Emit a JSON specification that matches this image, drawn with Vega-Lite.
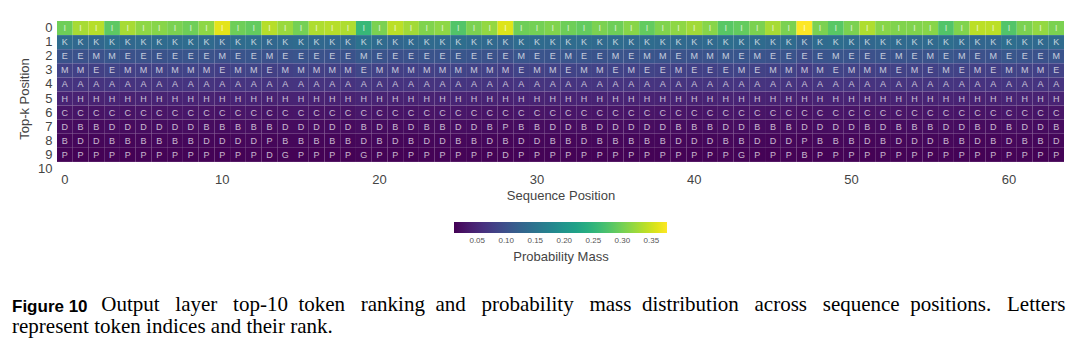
{
"$schema": "https://vega.github.io/schema/vega-lite/v6.json",
"width": 1007,
"height": 155,
"autosize": {"type": "none"},
"padding": {"left": 57, "top": 21, "right": 16, "bottom": 175},
"background": "white",
"config": {"view": {"stroke": null}, "font": "Liberation Sans"},
"title": {
  "text": "Figure 10",
  "subtitle": ["\u200b\u00a0\u00a0\u00a0\u00a0\u00a0\u00a0\u00a0\u00a0\u00a0\u00a0\u00a0\u00a0\u00a0\u00a0\u00a0\u00a0\u00a0Output \u00a0\u00a0layer \u00a0\u00a0top-10 \u00a0token \u00a0\u00a0ranking \u00a0and \u00a0\u00a0probability \u00a0\u00a0mass \u00a0distribution \u00a0\u00a0across \u00a0\u00a0sequence \u00a0positions. \u00a0\u00a0Letters", "represent token indices and their rank."],
  "orient": "bottom", "anchor": "start", "frame": "group", "dx": -45, "offset": 35,
  "font": "Liberation Sans", "fontSize": 17, "fontWeight": "bold", "color": "#000",
  "subtitleFont": "Liberation Serif", "subtitleFontSize": 21, "subtitleColor": "#000",
  "subtitleLineHeight": 22, "subtitlePadding": -22
},
"data": {"values": [
{"c":0,"r":0,"t":"I","p":0.296},{"c":1,"r":0,"t":"I","p":0.329},{"c":2,"r":0,"t":"I","p":0.337},{"c":3,"r":0,"t":"I","p":0.285},{"c":4,"r":0,"t":"I","p":0.329},{"c":5,"r":0,"t":"I","p":0.315},{"c":6,"r":0,"t":"I","p":0.311},{"c":7,"r":0,"t":"I","p":0.304},{"c":8,"r":0,"t":"I","p":0.296},{"c":9,"r":0,"t":"I","p":0.315},{"c":10,"r":0,"t":"I","p":0.362},{"c":11,"r":0,"t":"I","p":0.296},{"c":12,"r":0,"t":"I","p":0.289},{"c":13,"r":0,"t":"I","p":0.337},{"c":14,"r":0,"t":"I","p":0.322},{"c":15,"r":0,"t":"I","p":0.300},
{"c":16,"r":0,"t":"I","p":0.333},{"c":17,"r":0,"t":"I","p":0.337},{"c":18,"r":0,"t":"I","p":0.333},{"c":19,"r":0,"t":"I","p":0.256},{"c":20,"r":0,"t":"I","p":0.304},{"c":21,"r":0,"t":"I","p":0.340},{"c":22,"r":0,"t":"I","p":0.326},{"c":23,"r":0,"t":"I","p":0.307},{"c":24,"r":0,"t":"I","p":0.315},{"c":25,"r":0,"t":"I","p":0.278},{"c":26,"r":0,"t":"I","p":0.304},{"c":27,"r":0,"t":"I","p":0.318},{"c":28,"r":0,"t":"I","p":0.359},{"c":29,"r":0,"t":"I","p":0.296},{"c":30,"r":0,"t":"I","p":0.300},{"c":31,"r":0,"t":"I","p":0.307},
{"c":32,"r":0,"t":"I","p":0.296},{"c":33,"r":0,"t":"I","p":0.289},{"c":34,"r":0,"t":"I","p":0.304},{"c":35,"r":0,"t":"I","p":0.296},{"c":36,"r":0,"t":"I","p":0.311},{"c":37,"r":0,"t":"I","p":0.289},{"c":38,"r":0,"t":"I","p":0.307},{"c":39,"r":0,"t":"I","p":0.315},{"c":40,"r":0,"t":"I","p":0.326},{"c":41,"r":0,"t":"I","p":0.311},{"c":42,"r":0,"t":"I","p":0.282},{"c":43,"r":0,"t":"I","p":0.289},{"c":44,"r":0,"t":"I","p":0.304},{"c":45,"r":0,"t":"I","p":0.329},{"c":46,"r":0,"t":"I","p":0.304},{"c":47,"r":0,"t":"I","p":0.377},
{"c":48,"r":0,"t":"I","p":0.304},{"c":49,"r":0,"t":"I","p":0.282},{"c":50,"r":0,"t":"I","p":0.304},{"c":51,"r":0,"t":"I","p":0.333},{"c":52,"r":0,"t":"I","p":0.311},{"c":53,"r":0,"t":"I","p":0.307},{"c":54,"r":0,"t":"I","p":0.307},{"c":55,"r":0,"t":"I","p":0.311},{"c":56,"r":0,"t":"I","p":0.278},{"c":57,"r":0,"t":"I","p":0.307},{"c":58,"r":0,"t":"I","p":0.340},{"c":59,"r":0,"t":"I","p":0.340},{"c":60,"r":0,"t":"I","p":0.278},{"c":61,"r":0,"t":"I","p":0.304},{"c":62,"r":0,"t":"I","p":0.318},{"c":63,"r":0,"t":"I","p":0.304},

{"c":0,"r":1,"t":"K","p":0.138},{"c":1,"r":1,"t":"K","p":0.133},{"c":2,"r":1,"t":"K","p":0.131},{"c":3,"r":1,"t":"K","p":0.142},{"c":4,"r":1,"t":"K","p":0.132},{"c":5,"r":1,"t":"K","p":0.136},{"c":6,"r":1,"t":"K","p":0.137},{"c":7,"r":1,"t":"K","p":0.137},{"c":8,"r":1,"t":"K","p":0.139},{"c":9,"r":1,"t":"K","p":0.135},{"c":10,"r":1,"t":"K","p":0.127},{"c":11,"r":1,"t":"K","p":0.138},{"c":12,"r":1,"t":"K","p":0.140},{"c":13,"r":1,"t":"K","p":0.131},{"c":14,"r":1,"t":"K","p":0.134},{"c":15,"r":1,"t":"K","p":0.137},
{"c":16,"r":1,"t":"K","p":0.132},{"c":17,"r":1,"t":"K","p":0.131},{"c":18,"r":1,"t":"K","p":0.132},{"c":19,"r":1,"t":"K","p":0.147},{"c":20,"r":1,"t":"K","p":0.137},{"c":21,"r":1,"t":"K","p":0.130},{"c":22,"r":1,"t":"K","p":0.134},{"c":23,"r":1,"t":"K","p":0.136},{"c":24,"r":1,"t":"K","p":0.135},{"c":25,"r":1,"t":"K","p":0.141},{"c":26,"r":1,"t":"K","p":0.137},{"c":27,"r":1,"t":"K","p":0.134},{"c":28,"r":1,"t":"K","p":0.127},{"c":29,"r":1,"t":"K","p":0.138},{"c":30,"r":1,"t":"K","p":0.137},{"c":31,"r":1,"t":"K","p":0.136},
{"c":32,"r":1,"t":"K","p":0.138},{"c":33,"r":1,"t":"K","p":0.139},{"c":34,"r":1,"t":"K","p":0.136},{"c":35,"r":1,"t":"K","p":0.138},{"c":36,"r":1,"t":"K","p":0.135},{"c":37,"r":1,"t":"K","p":0.139},{"c":38,"r":1,"t":"K","p":0.136},{"c":39,"r":1,"t":"K","p":0.135},{"c":40,"r":1,"t":"K","p":0.133},{"c":41,"r":1,"t":"K","p":0.135},{"c":42,"r":1,"t":"K","p":0.141},{"c":43,"r":1,"t":"K","p":0.139},{"c":44,"r":1,"t":"K","p":0.137},{"c":45,"r":1,"t":"K","p":0.132},{"c":46,"r":1,"t":"K","p":0.137},{"c":47,"r":1,"t":"K","p":0.122},
{"c":48,"r":1,"t":"K","p":0.137},{"c":49,"r":1,"t":"K","p":0.140},{"c":50,"r":1,"t":"K","p":0.137},{"c":51,"r":1,"t":"K","p":0.131},{"c":52,"r":1,"t":"K","p":0.135},{"c":53,"r":1,"t":"K","p":0.136},{"c":54,"r":1,"t":"K","p":0.136},{"c":55,"r":1,"t":"K","p":0.135},{"c":56,"r":1,"t":"K","p":0.142},{"c":57,"r":1,"t":"K","p":0.136},{"c":58,"r":1,"t":"K","p":0.130},{"c":59,"r":1,"t":"K","p":0.130},{"c":60,"r":1,"t":"K","p":0.142},{"c":61,"r":1,"t":"K","p":0.137},{"c":62,"r":1,"t":"K","p":0.134},{"c":63,"r":1,"t":"K","p":0.137},

{"c":0,"r":2,"t":"E","p":0.104},{"c":1,"r":2,"t":"E","p":0.101},{"c":2,"r":2,"t":"M","p":0.100},{"c":3,"r":2,"t":"M","p":0.108},{"c":4,"r":2,"t":"E","p":0.101},{"c":5,"r":2,"t":"E","p":0.103},{"c":6,"r":2,"t":"E","p":0.104},{"c":7,"r":2,"t":"E","p":0.105},{"c":8,"r":2,"t":"E","p":0.106},{"c":9,"r":2,"t":"E","p":0.103},{"c":10,"r":2,"t":"M","p":0.098},{"c":11,"r":2,"t":"E","p":0.105},{"c":12,"r":2,"t":"E","p":0.107},{"c":13,"r":2,"t":"M","p":0.100},{"c":14,"r":2,"t":"E","p":0.102},{"c":15,"r":2,"t":"E","p":0.105},
{"c":16,"r":2,"t":"E","p":0.101},{"c":17,"r":2,"t":"E","p":0.100},{"c":18,"r":2,"t":"E","p":0.101},{"c":19,"r":2,"t":"M","p":0.112},{"c":20,"r":2,"t":"E","p":0.105},{"c":21,"r":2,"t":"E","p":0.099},{"c":22,"r":2,"t":"E","p":0.102},{"c":23,"r":2,"t":"E","p":0.104},{"c":24,"r":2,"t":"E","p":0.103},{"c":25,"r":2,"t":"E","p":0.108},{"c":26,"r":2,"t":"E","p":0.105},{"c":27,"r":2,"t":"E","p":0.103},{"c":28,"r":2,"t":"E","p":0.097},{"c":29,"r":2,"t":"M","p":0.106},{"c":30,"r":2,"t":"E","p":0.105},{"c":31,"r":2,"t":"E","p":0.104},
{"c":32,"r":2,"t":"M","p":0.106},{"c":33,"r":2,"t":"E","p":0.107},{"c":34,"r":2,"t":"E","p":0.104},{"c":35,"r":2,"t":"M","p":0.106},{"c":36,"r":2,"t":"E","p":0.103},{"c":37,"r":2,"t":"M","p":0.107},{"c":38,"r":2,"t":"M","p":0.104},{"c":39,"r":2,"t":"E","p":0.103},{"c":40,"r":2,"t":"M","p":0.102},{"c":41,"r":2,"t":"M","p":0.103},{"c":42,"r":2,"t":"M","p":0.108},{"c":43,"r":2,"t":"E","p":0.107},{"c":44,"r":2,"t":"M","p":0.105},{"c":45,"r":2,"t":"E","p":0.101},{"c":46,"r":2,"t":"E","p":0.105},{"c":47,"r":2,"t":"E","p":0.094},
{"c":48,"r":2,"t":"E","p":0.105},{"c":49,"r":2,"t":"M","p":0.107},{"c":50,"r":2,"t":"E","p":0.105},{"c":51,"r":2,"t":"E","p":0.100},{"c":52,"r":2,"t":"E","p":0.103},{"c":53,"r":2,"t":"M","p":0.104},{"c":54,"r":2,"t":"E","p":0.104},{"c":55,"r":2,"t":"M","p":0.103},{"c":56,"r":2,"t":"E","p":0.109},{"c":57,"r":2,"t":"M","p":0.104},{"c":58,"r":2,"t":"E","p":0.100},{"c":59,"r":2,"t":"M","p":0.100},{"c":60,"r":2,"t":"E","p":0.109},{"c":61,"r":2,"t":"E","p":0.105},{"c":62,"r":2,"t":"E","p":0.102},{"c":63,"r":2,"t":"M","p":0.105},

{"c":0,"r":3,"t":"M","p":0.081},{"c":1,"r":3,"t":"M","p":0.079},{"c":2,"r":3,"t":"E","p":0.078},{"c":3,"r":3,"t":"E","p":0.084},{"c":4,"r":3,"t":"M","p":0.079},{"c":5,"r":3,"t":"M","p":0.080},{"c":6,"r":3,"t":"M","p":0.081},{"c":7,"r":3,"t":"M","p":0.082},{"c":8,"r":3,"t":"M","p":0.082},{"c":9,"r":3,"t":"M","p":0.080},{"c":10,"r":3,"t":"E","p":0.076},{"c":11,"r":3,"t":"M","p":0.082},{"c":12,"r":3,"t":"M","p":0.083},{"c":13,"r":3,"t":"E","p":0.078},{"c":14,"r":3,"t":"M","p":0.079},{"c":15,"r":3,"t":"M","p":0.082},
{"c":16,"r":3,"t":"M","p":0.078},{"c":17,"r":3,"t":"M","p":0.078},{"c":18,"r":3,"t":"M","p":0.079},{"c":19,"r":3,"t":"E","p":0.087},{"c":20,"r":3,"t":"M","p":0.081},{"c":21,"r":3,"t":"M","p":0.077},{"c":22,"r":3,"t":"M","p":0.079},{"c":23,"r":3,"t":"M","p":0.080},{"c":24,"r":3,"t":"M","p":0.080},{"c":25,"r":3,"t":"M","p":0.084},{"c":26,"r":3,"t":"M","p":0.081},{"c":27,"r":3,"t":"M","p":0.080},{"c":28,"r":3,"t":"M","p":0.075},{"c":29,"r":3,"t":"E","p":0.082},{"c":30,"r":3,"t":"M","p":0.081},{"c":31,"r":3,"t":"M","p":0.081},
{"c":32,"r":3,"t":"E","p":0.082},{"c":33,"r":3,"t":"M","p":0.083},{"c":34,"r":3,"t":"M","p":0.081},{"c":35,"r":3,"t":"E","p":0.082},{"c":36,"r":3,"t":"M","p":0.080},{"c":37,"r":3,"t":"E","p":0.083},{"c":38,"r":3,"t":"E","p":0.081},{"c":39,"r":3,"t":"M","p":0.080},{"c":40,"r":3,"t":"E","p":0.079},{"c":41,"r":3,"t":"E","p":0.080},{"c":42,"r":3,"t":"E","p":0.084},{"c":43,"r":3,"t":"M","p":0.083},{"c":44,"r":3,"t":"E","p":0.081},{"c":45,"r":3,"t":"M","p":0.078},{"c":46,"r":3,"t":"M","p":0.082},{"c":47,"r":3,"t":"M","p":0.073},
{"c":48,"r":3,"t":"M","p":0.081},{"c":49,"r":3,"t":"E","p":0.083},{"c":50,"r":3,"t":"M","p":0.081},{"c":51,"r":3,"t":"M","p":0.078},{"c":52,"r":3,"t":"M","p":0.080},{"c":53,"r":3,"t":"E","p":0.081},{"c":54,"r":3,"t":"M","p":0.081},{"c":55,"r":3,"t":"E","p":0.080},{"c":56,"r":3,"t":"M","p":0.084},{"c":57,"r":3,"t":"E","p":0.081},{"c":58,"r":3,"t":"M","p":0.077},{"c":59,"r":3,"t":"E","p":0.077},{"c":60,"r":3,"t":"M","p":0.084},{"c":61,"r":3,"t":"M","p":0.081},{"c":62,"r":3,"t":"M","p":0.079},{"c":63,"r":3,"t":"E","p":0.081},

{"c":0,"r":4,"t":"A","p":0.065},{"c":1,"r":4,"t":"A","p":0.063},{"c":2,"r":4,"t":"A","p":0.063},{"c":3,"r":4,"t":"A","p":0.066},{"c":4,"r":4,"t":"A","p":0.063},{"c":5,"r":4,"t":"A","p":0.064},{"c":6,"r":4,"t":"A","p":0.064},{"c":7,"r":4,"t":"A","p":0.065},{"c":8,"r":4,"t":"A","p":0.065},{"c":9,"r":4,"t":"A","p":0.064},{"c":10,"r":4,"t":"A","p":0.061},{"c":11,"r":4,"t":"A","p":0.065},{"c":12,"r":4,"t":"A","p":0.065},{"c":13,"r":4,"t":"A","p":0.063},{"c":14,"r":4,"t":"A","p":0.064},{"c":15,"r":4,"t":"A","p":0.065},
{"c":16,"r":4,"t":"A","p":0.063},{"c":17,"r":4,"t":"A","p":0.063},{"c":18,"r":4,"t":"A","p":0.063},{"c":19,"r":4,"t":"A","p":0.068},{"c":20,"r":4,"t":"A","p":0.064},{"c":21,"r":4,"t":"A","p":0.062},{"c":22,"r":4,"t":"A","p":0.063},{"c":23,"r":4,"t":"A","p":0.064},{"c":24,"r":4,"t":"A","p":0.064},{"c":25,"r":4,"t":"A","p":0.066},{"c":26,"r":4,"t":"A","p":0.064},{"c":27,"r":4,"t":"A","p":0.064},{"c":28,"r":4,"t":"A","p":0.061},{"c":29,"r":4,"t":"A","p":0.065},{"c":30,"r":4,"t":"A","p":0.064},{"c":31,"r":4,"t":"A","p":0.064},
{"c":32,"r":4,"t":"A","p":0.065},{"c":33,"r":4,"t":"A","p":0.065},{"c":34,"r":4,"t":"A","p":0.064},{"c":35,"r":4,"t":"A","p":0.065},{"c":36,"r":4,"t":"A","p":0.064},{"c":37,"r":4,"t":"A","p":0.065},{"c":38,"r":4,"t":"A","p":0.064},{"c":39,"r":4,"t":"A","p":0.064},{"c":40,"r":4,"t":"A","p":0.063},{"c":41,"r":4,"t":"A","p":0.064},{"c":42,"r":4,"t":"A","p":0.066},{"c":43,"r":4,"t":"A","p":0.065},{"c":44,"r":4,"t":"A","p":0.064},{"c":45,"r":4,"t":"A","p":0.063},{"c":46,"r":4,"t":"A","p":0.064},{"c":47,"r":4,"t":"A","p":0.060},
{"c":48,"r":4,"t":"A","p":0.064},{"c":49,"r":4,"t":"A","p":0.065},{"c":50,"r":4,"t":"A","p":0.064},{"c":51,"r":4,"t":"A","p":0.063},{"c":52,"r":4,"t":"A","p":0.064},{"c":53,"r":4,"t":"A","p":0.064},{"c":54,"r":4,"t":"A","p":0.064},{"c":55,"r":4,"t":"A","p":0.064},{"c":56,"r":4,"t":"A","p":0.066},{"c":57,"r":4,"t":"A","p":0.064},{"c":58,"r":4,"t":"A","p":0.062},{"c":59,"r":4,"t":"A","p":0.062},{"c":60,"r":4,"t":"A","p":0.066},{"c":61,"r":4,"t":"A","p":0.064},{"c":62,"r":4,"t":"A","p":0.063},{"c":63,"r":4,"t":"A","p":0.064},

{"c":0,"r":5,"t":"H","p":0.045},{"c":1,"r":5,"t":"H","p":0.043},{"c":2,"r":5,"t":"H","p":0.043},{"c":3,"r":5,"t":"H","p":0.046},{"c":4,"r":5,"t":"H","p":0.043},{"c":5,"r":5,"t":"H","p":0.044},{"c":6,"r":5,"t":"H","p":0.044},{"c":7,"r":5,"t":"H","p":0.045},{"c":8,"r":5,"t":"H","p":0.045},{"c":9,"r":5,"t":"H","p":0.044},{"c":10,"r":5,"t":"H","p":0.042},{"c":11,"r":5,"t":"H","p":0.045},{"c":12,"r":5,"t":"H","p":0.045},{"c":13,"r":5,"t":"H","p":0.043},{"c":14,"r":5,"t":"H","p":0.044},{"c":15,"r":5,"t":"H","p":0.045},
{"c":16,"r":5,"t":"H","p":0.043},{"c":17,"r":5,"t":"H","p":0.043},{"c":18,"r":5,"t":"H","p":0.043},{"c":19,"r":5,"t":"H","p":0.047},{"c":20,"r":5,"t":"H","p":0.044},{"c":21,"r":5,"t":"H","p":0.043},{"c":22,"r":5,"t":"H","p":0.043},{"c":23,"r":5,"t":"H","p":0.044},{"c":24,"r":5,"t":"H","p":0.044},{"c":25,"r":5,"t":"H","p":0.046},{"c":26,"r":5,"t":"H","p":0.044},{"c":27,"r":5,"t":"H","p":0.044},{"c":28,"r":5,"t":"H","p":0.042},{"c":29,"r":5,"t":"H","p":0.045},{"c":30,"r":5,"t":"H","p":0.044},{"c":31,"r":5,"t":"H","p":0.044},
{"c":32,"r":5,"t":"H","p":0.045},{"c":33,"r":5,"t":"H","p":0.045},{"c":34,"r":5,"t":"H","p":0.044},{"c":35,"r":5,"t":"H","p":0.045},{"c":36,"r":5,"t":"H","p":0.044},{"c":37,"r":5,"t":"H","p":0.045},{"c":38,"r":5,"t":"H","p":0.044},{"c":39,"r":5,"t":"H","p":0.044},{"c":40,"r":5,"t":"H","p":0.043},{"c":41,"r":5,"t":"H","p":0.044},{"c":42,"r":5,"t":"H","p":0.046},{"c":43,"r":5,"t":"H","p":0.045},{"c":44,"r":5,"t":"H","p":0.044},{"c":45,"r":5,"t":"H","p":0.043},{"c":46,"r":5,"t":"H","p":0.044},{"c":47,"r":5,"t":"H","p":0.041},
{"c":48,"r":5,"t":"H","p":0.044},{"c":49,"r":5,"t":"H","p":0.045},{"c":50,"r":5,"t":"H","p":0.044},{"c":51,"r":5,"t":"H","p":0.043},{"c":52,"r":5,"t":"H","p":0.044},{"c":53,"r":5,"t":"H","p":0.044},{"c":54,"r":5,"t":"H","p":0.044},{"c":55,"r":5,"t":"H","p":0.044},{"c":56,"r":5,"t":"H","p":0.046},{"c":57,"r":5,"t":"H","p":0.044},{"c":58,"r":5,"t":"H","p":0.043},{"c":59,"r":5,"t":"H","p":0.043},{"c":60,"r":5,"t":"H","p":0.046},{"c":61,"r":5,"t":"H","p":0.044},{"c":62,"r":5,"t":"H","p":0.043},{"c":63,"r":5,"t":"H","p":0.044},

{"c":0,"r":6,"t":"C","p":0.030},{"c":1,"r":6,"t":"C","p":0.028},{"c":2,"r":6,"t":"C","p":0.028},{"c":3,"r":6,"t":"C","p":0.031},{"c":4,"r":6,"t":"C","p":0.028},{"c":5,"r":6,"t":"C","p":0.029},{"c":6,"r":6,"t":"C","p":0.029},{"c":7,"r":6,"t":"C","p":0.030},{"c":8,"r":6,"t":"C","p":0.030},{"c":9,"r":6,"t":"C","p":0.029},{"c":10,"r":6,"t":"C","p":0.027},{"c":11,"r":6,"t":"C","p":0.030},{"c":12,"r":6,"t":"C","p":0.030},{"c":13,"r":6,"t":"C","p":0.028},{"c":14,"r":6,"t":"C","p":0.029},{"c":15,"r":6,"t":"C","p":0.030},
{"c":16,"r":6,"t":"C","p":0.028},{"c":17,"r":6,"t":"C","p":0.028},{"c":18,"r":6,"t":"C","p":0.028},{"c":19,"r":6,"t":"C","p":0.032},{"c":20,"r":6,"t":"C","p":0.029},{"c":21,"r":6,"t":"C","p":0.028},{"c":22,"r":6,"t":"C","p":0.028},{"c":23,"r":6,"t":"C","p":0.029},{"c":24,"r":6,"t":"C","p":0.029},{"c":25,"r":6,"t":"C","p":0.031},{"c":26,"r":6,"t":"C","p":0.029},{"c":27,"r":6,"t":"C","p":0.029},{"c":28,"r":6,"t":"C","p":0.027},{"c":29,"r":6,"t":"C","p":0.030},{"c":30,"r":6,"t":"C","p":0.029},{"c":31,"r":6,"t":"C","p":0.029},
{"c":32,"r":6,"t":"C","p":0.030},{"c":33,"r":6,"t":"C","p":0.030},{"c":34,"r":6,"t":"C","p":0.029},{"c":35,"r":6,"t":"C","p":0.030},{"c":36,"r":6,"t":"C","p":0.029},{"c":37,"r":6,"t":"C","p":0.030},{"c":38,"r":6,"t":"C","p":0.029},{"c":39,"r":6,"t":"C","p":0.029},{"c":40,"r":6,"t":"C","p":0.028},{"c":41,"r":6,"t":"C","p":0.029},{"c":42,"r":6,"t":"C","p":0.031},{"c":43,"r":6,"t":"C","p":0.030},{"c":44,"r":6,"t":"C","p":0.029},{"c":45,"r":6,"t":"C","p":0.028},{"c":46,"r":6,"t":"C","p":0.029},{"c":47,"r":6,"t":"C","p":0.026},
{"c":48,"r":6,"t":"C","p":0.029},{"c":49,"r":6,"t":"C","p":0.030},{"c":50,"r":6,"t":"C","p":0.029},{"c":51,"r":6,"t":"C","p":0.028},{"c":52,"r":6,"t":"C","p":0.029},{"c":53,"r":6,"t":"C","p":0.029},{"c":54,"r":6,"t":"C","p":0.029},{"c":55,"r":6,"t":"C","p":0.029},{"c":56,"r":6,"t":"C","p":0.031},{"c":57,"r":6,"t":"C","p":0.029},{"c":58,"r":6,"t":"C","p":0.028},{"c":59,"r":6,"t":"C","p":0.028},{"c":60,"r":6,"t":"C","p":0.031},{"c":61,"r":6,"t":"C","p":0.029},{"c":62,"r":6,"t":"C","p":0.028},{"c":63,"r":6,"t":"C","p":0.029},

{"c":0,"r":7,"t":"D","p":0.021},{"c":1,"r":7,"t":"B","p":0.019},{"c":2,"r":7,"t":"B","p":0.019},{"c":3,"r":7,"t":"D","p":0.021},{"c":4,"r":7,"t":"D","p":0.019},{"c":5,"r":7,"t":"D","p":0.020},{"c":6,"r":7,"t":"D","p":0.020},{"c":7,"r":7,"t":"D","p":0.020},{"c":8,"r":7,"t":"D","p":0.021},{"c":9,"r":7,"t":"B","p":0.020},{"c":10,"r":7,"t":"B","p":0.019},{"c":11,"r":7,"t":"B","p":0.021},{"c":12,"r":7,"t":"B","p":0.021},{"c":13,"r":7,"t":"B","p":0.019},{"c":14,"r":7,"t":"D","p":0.020},{"c":15,"r":7,"t":"D","p":0.020},
{"c":16,"r":7,"t":"D","p":0.019},{"c":17,"r":7,"t":"D","p":0.019},{"c":18,"r":7,"t":"D","p":0.019},{"c":19,"r":7,"t":"B","p":0.022},{"c":20,"r":7,"t":"D","p":0.020},{"c":21,"r":7,"t":"B","p":0.019},{"c":22,"r":7,"t":"D","p":0.019},{"c":23,"r":7,"t":"B","p":0.020},{"c":24,"r":7,"t":"B","p":0.020},{"c":25,"r":7,"t":"D","p":0.021},{"c":26,"r":7,"t":"D","p":0.020},{"c":27,"r":7,"t":"B","p":0.020},{"c":28,"r":7,"t":"P","p":0.019},{"c":29,"r":7,"t":"B","p":0.020},{"c":30,"r":7,"t":"B","p":0.020},{"c":31,"r":7,"t":"D","p":0.020},
{"c":32,"r":7,"t":"D","p":0.021},{"c":33,"r":7,"t":"B","p":0.021},{"c":34,"r":7,"t":"D","p":0.020},{"c":35,"r":7,"t":"D","p":0.021},{"c":36,"r":7,"t":"D","p":0.020},{"c":37,"r":7,"t":"D","p":0.021},{"c":38,"r":7,"t":"D","p":0.020},{"c":39,"r":7,"t":"B","p":0.020},{"c":40,"r":7,"t":"B","p":0.019},{"c":41,"r":7,"t":"B","p":0.020},{"c":42,"r":7,"t":"D","p":0.021},{"c":43,"r":7,"t":"D","p":0.021},{"c":44,"r":7,"t":"B","p":0.020},{"c":45,"r":7,"t":"B","p":0.019},{"c":46,"r":7,"t":"B","p":0.020},{"c":47,"r":7,"t":"D","p":0.018},
{"c":48,"r":7,"t":"D","p":0.020},{"c":49,"r":7,"t":"D","p":0.021},{"c":50,"r":7,"t":"D","p":0.020},{"c":51,"r":7,"t":"B","p":0.019},{"c":52,"r":7,"t":"D","p":0.020},{"c":53,"r":7,"t":"B","p":0.020},{"c":54,"r":7,"t":"B","p":0.020},{"c":55,"r":7,"t":"B","p":0.020},{"c":56,"r":7,"t":"D","p":0.021},{"c":57,"r":7,"t":"D","p":0.020},{"c":58,"r":7,"t":"B","p":0.019},{"c":59,"r":7,"t":"D","p":0.019},{"c":60,"r":7,"t":"B","p":0.021},{"c":61,"r":7,"t":"D","p":0.020},{"c":62,"r":7,"t":"D","p":0.019},{"c":63,"r":7,"t":"B","p":0.020},

{"c":0,"r":8,"t":"B","p":0.016},{"c":1,"r":8,"t":"D","p":0.015},{"c":2,"r":8,"t":"D","p":0.015},{"c":3,"r":8,"t":"B","p":0.017},{"c":4,"r":8,"t":"B","p":0.015},{"c":5,"r":8,"t":"B","p":0.016},{"c":6,"r":8,"t":"B","p":0.016},{"c":7,"r":8,"t":"B","p":0.016},{"c":8,"r":8,"t":"B","p":0.016},{"c":9,"r":8,"t":"D","p":0.016},{"c":10,"r":8,"t":"D","p":0.015},{"c":11,"r":8,"t":"D","p":0.016},{"c":12,"r":8,"t":"D","p":0.017},{"c":13,"r":8,"t":"P","p":0.015},{"c":14,"r":8,"t":"B","p":0.016},{"c":15,"r":8,"t":"B","p":0.016},
{"c":16,"r":8,"t":"B","p":0.015},{"c":17,"r":8,"t":"B","p":0.015},{"c":18,"r":8,"t":"B","p":0.015},{"c":19,"r":8,"t":"D","p":0.017},{"c":20,"r":8,"t":"B","p":0.016},{"c":21,"r":8,"t":"D","p":0.015},{"c":22,"r":8,"t":"B","p":0.015},{"c":23,"r":8,"t":"D","p":0.016},{"c":24,"r":8,"t":"D","p":0.016},{"c":25,"r":8,"t":"B","p":0.017},{"c":26,"r":8,"t":"B","p":0.016},{"c":27,"r":8,"t":"D","p":0.016},{"c":28,"r":8,"t":"B","p":0.015},{"c":29,"r":8,"t":"D","p":0.016},{"c":30,"r":8,"t":"D","p":0.016},{"c":31,"r":8,"t":"B","p":0.016},
{"c":32,"r":8,"t":"B","p":0.016},{"c":33,"r":8,"t":"D","p":0.016},{"c":34,"r":8,"t":"B","p":0.016},{"c":35,"r":8,"t":"B","p":0.016},{"c":36,"r":8,"t":"B","p":0.016},{"c":37,"r":8,"t":"B","p":0.016},{"c":38,"r":8,"t":"B","p":0.016},{"c":39,"r":8,"t":"D","p":0.016},{"c":40,"r":8,"t":"D","p":0.015},{"c":41,"r":8,"t":"D","p":0.016},{"c":42,"r":8,"t":"B","p":0.017},{"c":43,"r":8,"t":"B","p":0.016},{"c":44,"r":8,"t":"D","p":0.016},{"c":45,"r":8,"t":"D","p":0.015},{"c":46,"r":8,"t":"D","p":0.016},{"c":47,"r":8,"t":"P","p":0.014},
{"c":48,"r":8,"t":"B","p":0.016},{"c":49,"r":8,"t":"B","p":0.016},{"c":50,"r":8,"t":"B","p":0.016},{"c":51,"r":8,"t":"D","p":0.015},{"c":52,"r":8,"t":"B","p":0.016},{"c":53,"r":8,"t":"D","p":0.016},{"c":54,"r":8,"t":"D","p":0.016},{"c":55,"r":8,"t":"D","p":0.016},{"c":56,"r":8,"t":"B","p":0.017},{"c":57,"r":8,"t":"B","p":0.016},{"c":58,"r":8,"t":"D","p":0.015},{"c":59,"r":8,"t":"B","p":0.015},{"c":60,"r":8,"t":"D","p":0.017},{"c":61,"r":8,"t":"B","p":0.016},{"c":62,"r":8,"t":"B","p":0.015},{"c":63,"r":8,"t":"D","p":0.016},

{"c":0,"r":9,"t":"P","p":0.012},{"c":1,"r":9,"t":"P","p":0.011},{"c":2,"r":9,"t":"P","p":0.011},{"c":3,"r":9,"t":"P","p":0.013},{"c":4,"r":9,"t":"P","p":0.011},{"c":5,"r":9,"t":"P","p":0.012},{"c":6,"r":9,"t":"P","p":0.012},{"c":7,"r":9,"t":"P","p":0.012},{"c":8,"r":9,"t":"P","p":0.012},{"c":9,"r":9,"t":"P","p":0.012},{"c":10,"r":9,"t":"P","p":0.011},{"c":11,"r":9,"t":"P","p":0.012},{"c":12,"r":9,"t":"P","p":0.013},{"c":13,"r":9,"t":"D","p":0.011},{"c":14,"r":9,"t":"G","p":0.012},{"c":15,"r":9,"t":"P","p":0.012},
{"c":16,"r":9,"t":"P","p":0.011},{"c":17,"r":9,"t":"P","p":0.011},{"c":18,"r":9,"t":"P","p":0.011},{"c":19,"r":9,"t":"G","p":0.013},{"c":20,"r":9,"t":"P","p":0.012},{"c":21,"r":9,"t":"P","p":0.011},{"c":22,"r":9,"t":"P","p":0.011},{"c":23,"r":9,"t":"P","p":0.012},{"c":24,"r":9,"t":"P","p":0.012},{"c":25,"r":9,"t":"P","p":0.013},{"c":26,"r":9,"t":"P","p":0.012},{"c":27,"r":9,"t":"P","p":0.012},{"c":28,"r":9,"t":"D","p":0.011},{"c":29,"r":9,"t":"P","p":0.012},{"c":30,"r":9,"t":"P","p":0.012},{"c":31,"r":9,"t":"P","p":0.012},
{"c":32,"r":9,"t":"P","p":0.012},{"c":33,"r":9,"t":"P","p":0.012},{"c":34,"r":9,"t":"P","p":0.012},{"c":35,"r":9,"t":"P","p":0.012},{"c":36,"r":9,"t":"P","p":0.012},{"c":37,"r":9,"t":"P","p":0.012},{"c":38,"r":9,"t":"P","p":0.012},{"c":39,"r":9,"t":"P","p":0.012},{"c":40,"r":9,"t":"P","p":0.011},{"c":41,"r":9,"t":"P","p":0.012},{"c":42,"r":9,"t":"P","p":0.013},{"c":43,"r":9,"t":"G","p":0.012},{"c":44,"r":9,"t":"P","p":0.012},{"c":45,"r":9,"t":"P","p":0.011},{"c":46,"r":9,"t":"P","p":0.012},{"c":47,"r":9,"t":"B","p":0.010},
{"c":48,"r":9,"t":"P","p":0.012},{"c":49,"r":9,"t":"P","p":0.012},{"c":50,"r":9,"t":"P","p":0.012},{"c":51,"r":9,"t":"P","p":0.011},{"c":52,"r":9,"t":"P","p":0.012},{"c":53,"r":9,"t":"P","p":0.012},{"c":54,"r":9,"t":"P","p":0.012},{"c":55,"r":9,"t":"P","p":0.012},{"c":56,"r":9,"t":"P","p":0.013},{"c":57,"r":9,"t":"P","p":0.012},{"c":58,"r":9,"t":"P","p":0.011},{"c":59,"r":9,"t":"P","p":0.011},{"c":60,"r":9,"t":"P","p":0.013},{"c":61,"r":9,"t":"P","p":0.012},{"c":62,"r":9,"t":"P","p":0.011},{"c":63,"r":9,"t":"P","p":0.012}
]},
"encoding": {
  "x": {"field": "c", "type": "ordinal",
    "scale": {"domain": [0,1,2,3,4,5,6,7,8,9,10,11,12,13,14,15,16,17,18,19,20,21,22,23,24,25,26,27,28,29,30,31,32,33,34,35,36,37,38,39,40,41,42,43,44,45,46,47,48,49,50,51,52,53,54,55,56,57,58,59,60,61,62,63], "paddingInner": 0, "paddingOuter": 0},
    "axis": {"title": "Sequence Position", "labelExpr": "datum.value % 10 === 0 ? datum.label : ''", "labelAngle": 0, "ticks": false, "domain": false, "labelFontSize": 13, "labelColor": "#444", "labelPadding": -3, "titleFontSize": 13, "titleFontWeight": "normal", "titleColor": "#444", "titlePadding": 3, "labelOverlap": false}},
  "y": {"field": "r", "type": "ordinal",
    "scale": {"domain": [0,1,2,3,4,5,6,7,8,9,10], "paddingInner": 0, "paddingOuter": 0},
    "axis": {"title": "Top-k Position", "ticks": false, "domain": false, "labelFontSize": 13, "labelColor": "#444", "labelPadding": 5, "titleFontSize": 13, "titleFontWeight": "normal", "titleColor": "#444", "titlePadding": 6}}
},
"layer": [
  {"mark": {"type": "rect"},
   "encoding": {"color": {"field": "p", "type": "quantitative",
     "scale": {"scheme": "viridis", "domain": [0.01, 0.377]},
     "legend": {"orient": "none", "legendX": 397, "legendY": 201, "direction": "horizontal", "gradientLength": 213, "gradientThickness": 11, "gradientStrokeWidth": 0,
       "title": "Probability Mass", "titleOrient": "bottom", "titleAnchor": "middle", "titleFontSize": 13, "titleFontWeight": "normal", "titleColor": "#444", "titlePadding": 6,
       "values": [0.05,0.1,0.15,0.2,0.25,0.3,0.35], "format": ".2f", "labelFontSize": 8, "labelColor": "#555", "labelOffset": 4, "labelOverlap": false}}}},
  {"mark": {"type": "text", "fontSize": 9, "fill": "white", "opacity": 0.7, "font": "Liberation Sans"},
   "encoding": {"text": {"field": "t"}}}
]
}
